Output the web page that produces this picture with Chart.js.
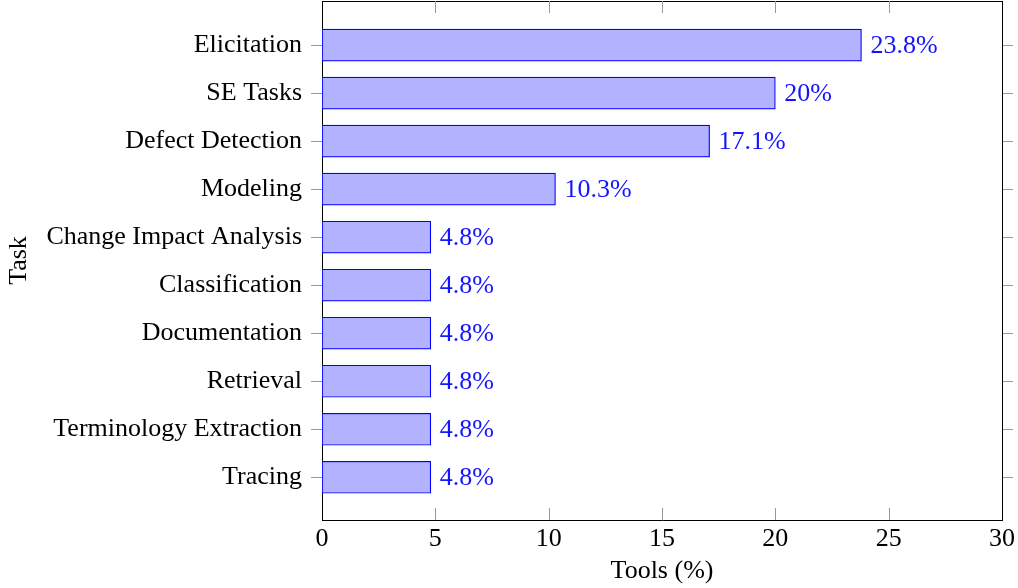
<!DOCTYPE html>
<html><head><meta charset="utf-8">
<script src="https://cdn.jsdelivr.net/npm/chart.js@4"></script>
<style>body{margin:0;background:#fff}#w{width:1018px;height:588px}</style>
</head><body><div id="w"><canvas id="c" width="1018" height="588"></canvas></div>
<script>
const categories = ["Elicitation","SE Tasks","Defect Detection","Modeling","Change Impact Analysis","Classification","Documentation","Retrieval","Terminology Extraction","Tracing"];
const toolShare = [23.8, 20, 17.1, 10.3, 4.8, 4.8, 4.8, 4.8, 4.8, 4.8];
const valueLabels = ["23.8%","20%","17.1%","10.3%","4.8%","4.8%","4.8%","4.8%","4.8%","4.8%"];
const xTicks = [0,5,10,15,20,25,30];

const FONT = "'Liberation Serif', 'Times New Roman', serif";
const FS = 26;
const TICKC = '#999999';
const catTicks = axis => { axis.ticks = categories.map((c,i)=>({value:i})); };

const valueLabelPlugin = {
  id:'valueLabels',
  afterDatasetsDraw(chart){
    const ctx = chart.ctx, meta = chart.getDatasetMeta(0);
    ctx.save();
    ctx.font = FS + 'px ' + FONT;
    ctx.fillStyle = '#1414ff';
    ctx.textAlign = 'left'; ctx.textBaseline = 'middle';
    meta.data.forEach((bar,i)=>{ ctx.fillText(valueLabels[i], bar.x + 9, bar.y + 1); });
    ctx.restore();
  }
};
const innerTickPlugin = {
  id:'innerTicks',
  afterDraw(chart){
    const ctx = chart.ctx, xs = chart.scales.x, a = chart.chartArea;
    ctx.save(); ctx.strokeStyle = TICKC; ctx.lineWidth = 1;
    xTicks.forEach(v=>{
      const px = Math.round(xs.getPixelForValue(v)) + 0.5;
      if (v===0 || v===30) return;
      ctx.beginPath(); ctx.moveTo(px, a.bottom); ctx.lineTo(px, a.bottom - 12); ctx.stroke();
      ctx.beginPath(); ctx.moveTo(px, a.top); ctx.lineTo(px, a.top + 12); ctx.stroke();
    });
    ctx.restore();
  }
};
const noPadV = s => { s.paddingTop = 0; s.paddingBottom = 0; };

new Chart(document.getElementById('c'), {
  type:'bar',
  data:{ datasets:[{
    data: toolShare.map((v,i)=>({x:v, y:i})),
    backgroundColor:'rgb(178,178,255)', borderColor:'rgb(0,0,255)', borderWidth:1.2, borderSkipped:false,
    barThickness:32
  }]},
  options:{
    indexAxis:'y', responsive:false, animation:false,
    layout:{padding:0},
    plugins:{legend:{display:false}, tooltip:{enabled:false}},
    scales:{
      x:{ type:'linear', position:'bottom', min:0, max:30, offset:false,
        afterBuildTicks: axis=>{ axis.ticks = xTicks.map(v=>({value:v})); },
        grid:{display:false, drawTicks:false}, border:{display:true,color:'#000',width:1},
        ticks:{font:{family:FONT,size:FS}, color:'#000', padding:4, maxRotation:0},
        title:{display:true,text:'Tools (%)',font:{family:FONT,size:FS},color:'#000',padding:{top:0,bottom:1}},
        afterFit: s=>{ s.height = 68; s.paddingLeft = 0; s.paddingRight = 0; }
      },
      x2:{ type:'linear', position:'top', min:0, max:30, offset:false,
        grid:{display:false, drawTicks:false}, border:{display:true,color:'#000',width:1},
        ticks:{display:false}, afterFit: s=>{ s.height = 1; s.paddingLeft = 0; s.paddingRight = 0; }
      },
      y:{ type:'linear', position:'left', min:-0.92, max:9.89, reverse:true, offset:false,
        afterBuildTicks: catTicks,
        grid:{display:true, offset:false, drawOnChartArea:false, drawTicks:true, tickLength:11, color:TICKC},
        border:{display:true,color:'#000',width:1},
        ticks:{font:{family:FONT,size:FS}, color:'#000', padding:9, callback:(v)=>categories[v]},
        title:{display:true,text:'Task',font:{family:FONT,size:FS},color:'#000',padding:{top:4,bottom:4}},
        afterFit: s=>{ s.width = 322; noPadV(s); }
      },
      y2:{ type:'linear', position:'right', min:-0.92, max:9.89, reverse:true, offset:false,
        afterBuildTicks: catTicks,
        grid:{display:true, offset:false, drawOnChartArea:false, drawTicks:true, tickLength:11, color:TICKC},
        border:{display:true,color:'#000',width:1},
        ticks:{display:false}, afterFit: s=>{ s.width = 16; noPadV(s); }
      }
    }
  },
  plugins:[valueLabelPlugin, innerTickPlugin]
});
</script></body></html>
